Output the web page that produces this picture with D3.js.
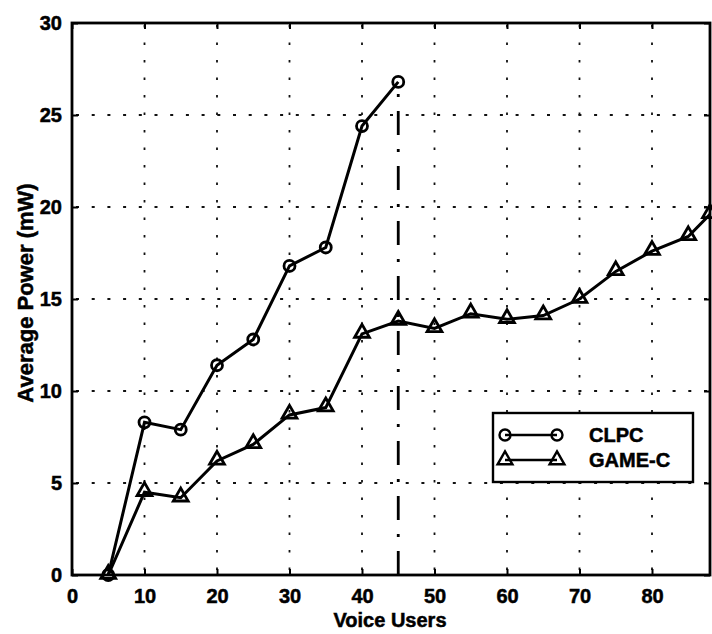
<!DOCTYPE html>
<html>
<head>
<meta charset="utf-8">
<script src="https://cdn.jsdelivr.net/npm/d3@7/dist/d3.min.js"></script>
<style>
  html, body { margin: 0; padding: 0; background: #fff; }
  svg text { font-family: "Liberation Sans", Arial, Helvetica, sans-serif; font-weight: bold; fill: #000; stroke: #000; stroke-width: 0.5px; }
</style>
</head>
<body>
<svg id="chart" width="712" height="634"></svg>
<script>
// Average transmit power versus number of voice users
const clpcUsers  = [5, 10, 15, 20, 25, 30, 35, 40, 45];
const clpcPower  = [0, 8.3, 7.9, 11.4, 12.8, 16.8, 17.8, 24.4, 26.8];
const gameUsers  = [5, 10, 15, 20, 25, 30, 35, 40, 45, 50, 55, 60, 65, 70, 75, 80, 85, 88];
const gamePower  = [0, 4.5, 4.2, 6.2, 7.1, 8.7, 9.1, 13.1, 13.8, 13.4, 14.2, 13.9, 14.1, 15.0, 16.5, 17.6, 18.4, 19.6];
const xTicks = [0, 10, 20, 30, 40, 50, 60, 70, 80];
const yTicks = [0, 5, 10, 15, 20, 25, 30];
const capacityMark = { users: 45, top: 26.4 };
const seriesNames = ["CLPC", "GAME-C"];

const svg = d3.select("#chart");
const m = { left: 72, right: 710, top: 23, bottom: 575 };

const x = d3.scaleLinear().domain([0, 88]).range([m.left, m.right]);
const y = d3.scaleLinear().domain([0, 30]).range([m.bottom, m.top]);

svg.append("defs").append("clipPath").attr("id", "plotClip")
  .append("rect")
  .attr("x", m.left).attr("y", m.top)
  .attr("width", m.right - m.left).attr("height", m.bottom - m.top);

// dotted grid
const grid = svg.append("g").attr("stroke", "#111").attr("stroke-width", 1.8);
grid.selectAll("line.v").data(xTicks.filter(d => d > 0)).join("line")
  .attr("x1", d => x(d)).attr("x2", d => x(d))
  .attr("y1", m.top).attr("y2", m.bottom)
  .attr("stroke-dasharray", "2.5,15").attr("stroke-dashoffset", -2);
grid.selectAll("line.h").data(yTicks.filter(d => d > 0 && d < 30)).join("line")
  .attr("x1", m.left).attr("x2", m.right)
  .attr("y1", d => y(d)).attr("y2", d => y(d))
  .attr("stroke-dasharray", "3,12.7").attr("stroke-dashoffset", -4);

// axes (ticks point inward, Matlab style)
const axisX = svg.append("g").attr("transform", `translate(0,${m.bottom})`)
  .call(d3.axisBottom(x).tickValues(xTicks).tickSize(-6).tickPadding(14).tickFormat(d3.format("d")));
const axisY = svg.append("g").attr("transform", `translate(${m.left},0)`)
  .call(d3.axisLeft(y).tickValues(yTicks).tickSize(-6).tickPadding(10).tickFormat(d3.format("d")));
svg.append("g").attr("transform", `translate(0,${m.top})`)
  .call(d3.axisTop(x).tickValues(xTicks).tickSize(-6).tickFormat(""));
svg.append("g").attr("transform", `translate(${m.right},0)`)
  .call(d3.axisRight(y).tickValues(yTicks).tickSize(-6).tickFormat(""));

svg.selectAll(".domain").remove();
svg.selectAll(".tick line").attr("stroke", "#000").attr("stroke-width", 2);
axisX.selectAll(".tick text").attr("font-size", 20).attr("dy", "0.71em");
axisY.selectAll(".tick text").attr("font-size", 20);

// frame
svg.append("rect")
  .attr("x", m.left).attr("y", m.top)
  .attr("width", m.right - m.left).attr("height", m.bottom - m.top)
  .attr("fill", "none").attr("stroke", "#000").attr("stroke-width", 2.8);

const plot = svg.append("g").attr("clip-path", "url(#plotClip)");

// capacity limit marker
plot.append("line")
  .attr("x1", x(capacityMark.users)).attr("x2", x(capacityMark.users))
  .attr("y1", y(0)).attr("y2", y(capacityMark.top))
  .attr("stroke", "#000").attr("stroke-width", 2.8)
  .attr("stroke-dasharray", "24,14,3,14");

const line = d3.line().x(d => x(d[0])).y(d => y(d[1]));
const clpc = clpcUsers.map((u, i) => [u, clpcPower[i]]);
const game = gameUsers.map((u, i) => [u, gamePower[i]]);

plot.append("path").datum(clpc).attr("d", line)
  .attr("fill", "none").attr("stroke", "#000").attr("stroke-width", 3);
plot.append("path").datum(game).attr("d", line)
  .attr("fill", "none").attr("stroke", "#000").attr("stroke-width", 3);

const circleSym = d3.symbol().type(d3.symbolCircle).size(95);
const triSym = d3.symbol().type(d3.symbolTriangle).size(95);

svg.append("g").selectAll("path").data(clpc).join("path")
  .attr("d", circleSym)
  .attr("transform", d => `translate(${x(d[0])},${y(d[1])})`)
  .attr("fill", "none").attr("stroke", "#000").attr("stroke-width", 2.8);
svg.append("g").selectAll("path").data(game).join("path")
  .attr("d", triSym)
  .attr("transform", d => `translate(${x(d[0])},${y(d[1]) - 1})`)
  .attr("fill", "none").attr("stroke", "#000").attr("stroke-width", 2.8);

// legend
const lg = svg.append("g");
lg.append("rect").attr("x", 493).attr("y", 413).attr("width", 200).attr("height", 69)
  .attr("fill", "#fff").attr("stroke", "#000").attr("stroke-width", 2.4);
const rows = [{ name: seriesNames[0], sym: circleSym, yy: 435 },
              { name: seriesNames[1], sym: triSym, yy: 460 }];
rows.forEach(r => {
  lg.append("line").attr("x1", 505).attr("x2", 557).attr("y1", r.yy).attr("y2", r.yy)
    .attr("stroke", "#000").attr("stroke-width", 2.6);
  [505, 557].forEach(px => {
    lg.append("path").attr("d", r.sym).attr("transform", `translate(${px},${r.yy})`)
      .attr("fill", "none").attr("stroke", "#000").attr("stroke-width", 2.4);
  });
  lg.append("text").attr("x", 589).attr("y", r.yy + 7).attr("font-size", 20).text(r.name);
});

// axis titles
svg.append("text").attr("x", 390).attr("y", 627).attr("text-anchor", "middle")
  .attr("font-size", 20).text("Voice Users");
svg.append("text").attr("transform", "translate(33,293) rotate(-90)")
  .attr("text-anchor", "middle").attr("font-size", 22).text("Average Power (mW)");
</script>
</body>
</html>
